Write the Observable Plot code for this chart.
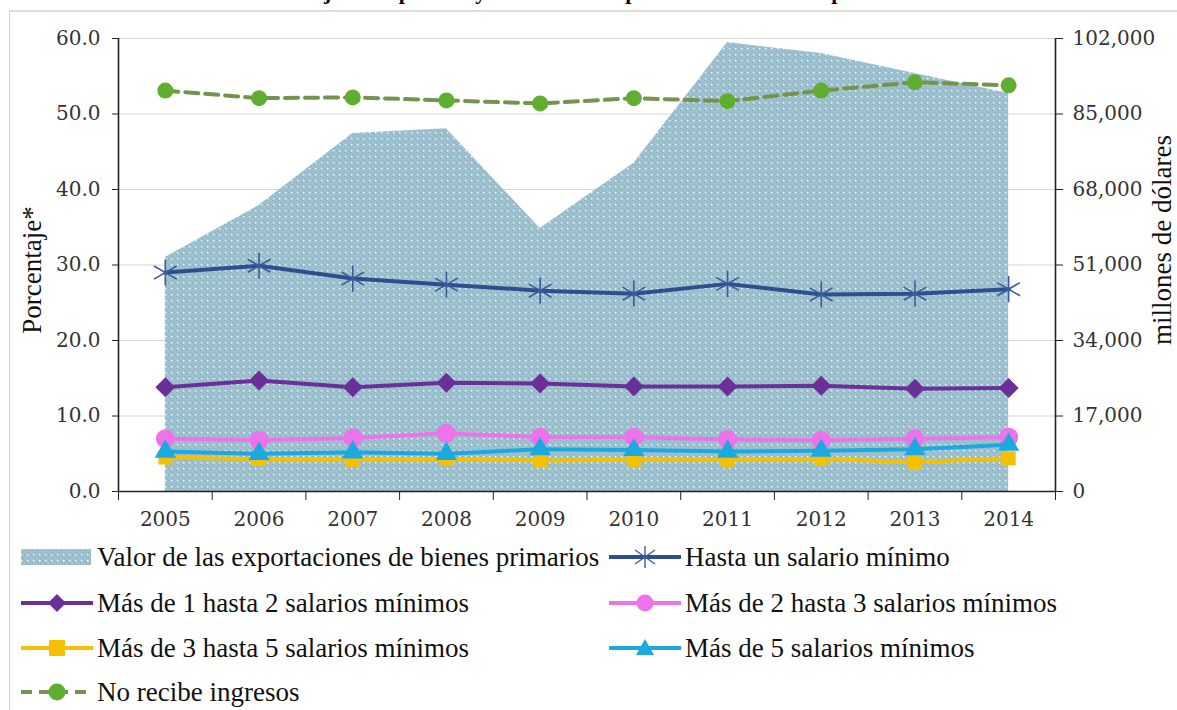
<!DOCTYPE html>
<html><head><meta charset="utf-8">
<script src="https://cdn.jsdelivr.net/npm/d3@7"></script>
<script src="https://cdn.jsdelivr.net/npm/@observablehq/plot@0.6"></script>
<style>
body{margin:0;background:#fff;width:1177px;height:710px;overflow:hidden;position:relative;}
#title{position:absolute;left:2px;top:-19px;font-family:'Liberation Serif',serif;font-weight:bold;font-size:22px;white-space:nowrap;color:#000;line-height:22px;}
#frame{position:absolute;left:9px;top:10px;width:1300px;height:800px;border-left:1px solid #d4d4d4;border-top:2px solid #dcdcdc;}
#chart{position:absolute;left:0;top:0;}
#legend{position:absolute;left:0;top:530px;}
</style></head><body>
<div id="title">Gráfica 4. Concentración de trabajadores por SM y valor de las exportaciones de bienes primarios</div>
<div id="frame"></div>
<div id="chart"></div>
<div id="legend"></div>
<script>
// ---- data ----
const years = [2005, 2006, 2007, 2008, 2009, 2010, 2011, 2012, 2013, 2014];
const exportaciones = [52700, 64400, 80600, 81700, 59200, 73900, 101100, 98600, 94100, 89600]; // millones de dólares
const hastaUno   = [29.0, 29.9, 28.2, 27.4, 26.6, 26.2, 27.5, 26.1, 26.2, 26.8];
const unoADos    = [13.8, 14.7, 13.8, 14.4, 14.3, 13.9, 13.9, 14.0, 13.6, 13.7];
const dosATres   = [7.0, 6.8, 7.1, 7.7, 7.2, 7.2, 6.9, 6.8, 7.0, 7.2];
const tresACinco = [4.5, 4.3, 4.2, 4.3, 4.1, 4.2, 4.2, 4.3, 3.9, 4.4];
const masCinco   = [5.3, 5.0, 5.2, 5.0, 5.6, 5.5, 5.3, 5.4, 5.6, 6.2];
const noRecibe   = [53.1, 52.1, 52.2, 51.8, 51.4, 52.1, 51.7, 53.1, 54.2, 53.8];
const leftTicks  = [0, 10, 20, 30, 40, 50, 60];
const rightTicks = [0, 17000, 34000, 51000, 68000, 85000, 102000];
const leftMax = 60, rightMax = 102000;
const areaLabel = "Valor de las exportaciones de bienes primarios";

const series = [
  {name: "Hasta un salario mínimo", values: hastaUno, color: "#2e4f8f", mcolor: "#3b5c9c", symbol: "asterisk", r: 12.4, dash: null},
  {name: "Más de 1 hasta 2 salarios mínimos", values: unoADos, color: "#6a2f98", mcolor: "#6a2f98", symbol: "diamond2", r: 9, dash: null},
  {name: "Más de 2 hasta 3 salarios mínimos", values: dosATres, color: "#ee72ea", mcolor: "#ee72ea", symbol: "circle", r: 9.5, dash: null},
  {name: "Más de 3 hasta 5 salarios mínimos", values: tresACinco, color: "#f5c000", mcolor: "#f5c000", symbol: "square", r: 7.9, dash: null},
  {name: "Más de 5 salarios mínimos", values: masCinco, color: "#1ca9df", mcolor: "#1ca9df", symbol: "triangle", r: 7.9, dash: null},
  {name: "No recibe ingresos", values: noRecibe, color: "#76924f", mcolor: "#5fae30", symbol: "circle", r: 8, dash: "13,7"}
];

const toLeft = v => v * leftMax / rightMax;
const areaData = years.map((y, i) => ({year: y, value: toLeft(exportaciones[i]), raw: exportaciones[i]}));

const marks = [
  Plot.gridY(leftTicks.filter(d => d > 0), {stroke: "#d6d6d6", strokeOpacity: 1, strokeWidth: 1.2}),
  Plot.areaY(areaData, {x: "year", y: "value", fill: "url(#dots)"})
];
for (const s of series) {
  const data = years.map((y, i) => ({year: y, value: s.values[i]}));
  marks.push(Plot.line(data, {x: "year", y: "value", stroke: s.color, strokeWidth: 4, strokeDasharray: s.dash || undefined}));
  if (s.symbol === "asterisk") {
    marks.push(Plot.dot(data, {x: "year", y: "value", symbol: "asterisk", r: s.r, stroke: s.mcolor, strokeWidth: 1.6, fill: "none"}));
  } else {
    marks.push(Plot.dot(data, {x: "year", y: "value", symbol: s.symbol, r: s.r, fill: s.mcolor, stroke: "none"}));
  }
}
marks.push(
  Plot.ruleY([0], {x1: years[0] - 0.5, x2: years[years.length - 1] + 0.5, stroke: "#222", strokeWidth: 1.6}),
  Plot.ruleX([years[0] - 0.5, years[years.length - 1] + 0.5], {y1: 0, y2: leftMax, stroke: "#222", strokeWidth: 1.6}),
  Plot.axisY(leftTicks, {anchor: "left", tickSize: 6, tickPadding: 12, tickFormat: d => d.toFixed(1), label: null, stroke: "#222", fill: "#333", fontSize: 20}),
  Plot.axisY(rightTicks.map(toLeft), {anchor: "right", tickSize: 7, tickPadding: 10, tickFormat: d => d3.format(",")(Math.round(d * rightMax / leftMax)), label: null, stroke: "#222", fill: "#333", fontSize: 20}),
  Plot.axisX(years, {anchor: "bottom", tickSize: 0, tickPadding: 20, tickFormat: d => String(d), label: null, fill: "#333", fontSize: 20}),
  Plot.axisX(d3.range(years[0] - 0.5, years[years.length - 1] + 1, 1), {anchor: "bottom", tickSize: 9, tickFormat: () => "", label: null, stroke: "#222"}),
  Plot.text(["Porcentaje*"], {frameAnchor: "left", dx: -97, dy: 5, rotate: -90, lineAnchor: "top", textAnchor: "middle", fontSize: 27, fontFamily: "'Liberation Serif', serif", fill: "#111"}),
  Plot.text(["millones de dólares"], {frameAnchor: "right", dx: 96, dy: -25, rotate: -90, lineAnchor: "top", textAnchor: "middle", fontSize: 27, fontFamily: "'Liberation Serif', serif", fill: "#111"})
);

const chart = Plot.plot({
  width: 1177, height: 530,
  marginTop: 38, marginBottom: 39, marginLeft: 118, marginRight: 122,
  x: {type: "linear", domain: [years[0] - 0.5, years[years.length - 1] + 0.5]},
  y: {domain: [0, leftMax]},
  style: {fontFamily: "'DejaVu Serif', serif", color: "#222", background: "transparent", overflow: "visible"},
  marks
});
chart.insertAdjacentHTML("afterbegin",
  `<defs><pattern id="dots" patternUnits="userSpaceOnUse" width="6" height="6">
     <rect width="6" height="6" fill="#9fc1cd"/>
     <rect x="0" y="0" width="1" height="1" fill="#83aabb"/>
     <rect x="2" y="2" width="1" height="1" fill="#83aabb"/>
     <rect x="4" y="4" width="1" height="1" fill="#83aabb"/>
     <rect x="3" y="0" width="1.4" height="1.4" fill="#f4f9fb"/>
   </pattern></defs>`);
document.getElementById("chart").appendChild(chart);

// ---- legend (SVG) ----
function sym(kind, color, mcolor, dash, x0, c) {
  const w = 72, m = x0 + 36;
  if (kind === "area") return `<rect x="${x0}" y="${c - 8}" width="${w - 2}" height="16" fill="url(#dots)"/>`;
  let line = `<line x1="${x0}" x2="${x0 + w}" y1="${c}" y2="${c}" stroke="${color}" stroke-width="4" ${dash ? `stroke-dasharray="11,7" stroke-dashoffset="0"` : ""}/>`;
  let mk = "";
  if (kind === "asterisk") mk = `<g stroke="${mcolor}" stroke-width="1.4"><line x1="${m}" x2="${m}" y1="${c-11}" y2="${c+11}"/><line x1="${m-10}" x2="${m+10}" y1="${c-7}" y2="${c+7}"/><line x1="${m-10}" x2="${m+10}" y1="${c+7}" y2="${c-7}"/></g>`;
  if (kind === "diamond2") mk = `<path d="M${m},${c-9}L${m+9},${c}L${m},${c+9}L${m-9},${c}Z" fill="${mcolor}"/>`;
  if (kind === "circle") mk = `<circle cx="${m}" cy="${c}" r="8.5" fill="${mcolor}"/>`;
  if (kind === "square") mk = `<rect x="${m-8}" y="${c-8}" width="16" height="16" fill="${mcolor}"/>`;
  if (kind === "triangle") mk = `<path d="M${m},${c-9}L${m+9},${c+7}L${m-9},${c+7}Z" fill="${mcolor}"/>`;
  return line + mk;
}
const legendItems = [
  {label: areaLabel, kind: "area", col: 0, row: 0},
  {label: series[0].name, s: series[0], col: 1, row: 0},
  {label: series[1].name, s: series[1], col: 0, row: 1},
  {label: series[2].name, s: series[2], col: 1, row: 1},
  {label: series[3].name, s: series[3], col: 0, row: 2},
  {label: series[4].name, s: series[4], col: 1, row: 2},
  {label: series[5].name, s: series[5], col: 0, row: 3}
];
const colX = [21, 609], rowY = [557, 603, 648, 692].map(v => v - 530);
let parts = "";
for (const it of legendItems) {
  const x0 = colX[it.col], c = rowY[it.row];
  parts += it.kind === "area" ? sym("area", null, null, null, x0, c) : sym(it.s.symbol, it.s.color, it.s.mcolor, it.s.dash, x0, c);
  parts += `<text x="${x0 + 76}" y="${c + 9}" font-family="'Liberation Serif', serif" font-size="27" fill="#111">${it.label}</text>`;
}
document.getElementById("legend").innerHTML = `<svg width="1177" height="180" xmlns="http://www.w3.org/2000/svg">${parts}</svg>`;
</script>
</body></html>
